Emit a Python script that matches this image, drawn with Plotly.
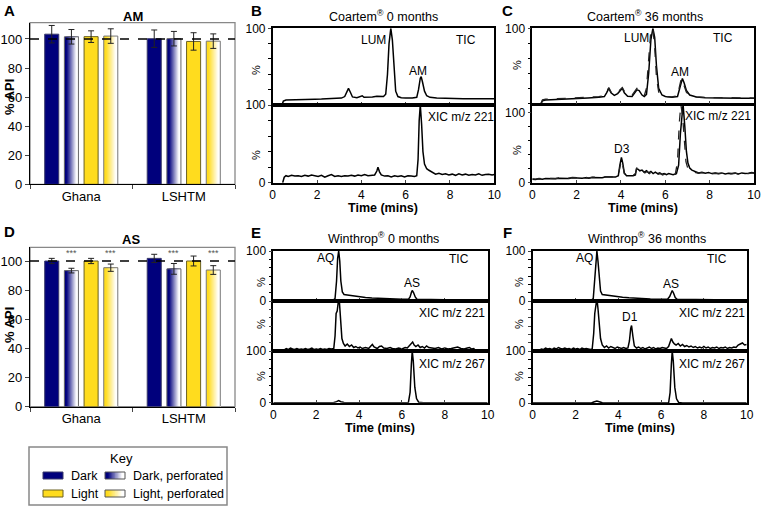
import plotly.graph_objects as go

W, H = 763, 506
FONT = "Arial, Liberation Sans, sans-serif"
NAVY = "#00007c"
GOLD = "#ffdc1e"

# ---- bar panels (A = AM, D = AS) ----
sites = ["Ghana", "LSHTM"]

am_dark = [103.3, 100.2]
am_dark_err = [6.0, 6.0]
am_dperf = [101.5, 100.2]
am_dperf_err = [5.0, 5.0]
am_light = [101.6, 98.3]
am_light_err = [4.0, 6.0]
am_lperf = [102.0, 98.5]
am_lperf_err = [5.0, 5.0]

as_dark = [100.0, 101.8]
as_dark_err = [1.8, 2.8]
as_dperf = [93.4, 94.6]
as_dperf_err = [1.6, 3.7]
as_light = [100.0, 100.0]
as_light_err = [1.8, 3.4]
as_lperf = [95.4, 93.8]
as_lperf_err = [2.5, 3.0]

# ---- chromatograms (time in min, % of max) ----
b_tic_t = [0.42, 0.48, 0.6, 0.8, 1.0, 1.3, 1.6, 1.9, 2.2, 2.5, 2.8, 3.1, 3.25, 3.35, 3.42, 3.5, 3.6, 3.8, 3.95, 4.04,
           4.12, 4.3, 4.5, 4.7, 4.85, 5.0, 5.1, 5.18, 5.25, 5.33, 5.4, 5.47, 5.55, 5.65, 5.8, 6.0, 6.3, 6.5, 6.58,
           6.66, 6.7, 6.76, 6.85, 6.95, 7.1, 7.4, 7.8, 8.2, 8.6, 9.0, 9.4, 9.8, 10.0]
b_tic_y = [0, 5, 6.5, 6.8, 7, 7.2, 7.3, 7.6, 7.8, 8.2, 8.5, 9, 11, 17, 21.7, 17, 10.5, 9.5, 10.5, 12,
           10, 9.8, 10.5, 11.5, 11, 11, 14, 40, 80, 100, 85, 45, 18, 11, 9.5, 9, 9, 10, 20,
           35, 37, 30, 18, 12, 10, 9, 8.5, 8.5, 8.3, 8.2, 8, 8, 8]

b_xic_t = [0.45, 0.52, 0.6, 0.7, 0.85, 1.0, 1.15, 1.3, 1.45, 1.6, 1.75, 1.9, 2.05, 2.2, 2.35, 2.5, 2.65, 2.8, 2.95,
           3.1, 3.25, 3.4, 3.55, 3.7, 3.85, 4.0, 4.15, 4.3, 4.45, 4.6, 4.7, 4.75, 4.82, 4.9, 5.05, 5.2, 5.35, 5.5,
           5.65, 5.8, 5.95, 6.1, 6.25, 6.4, 6.5, 6.56, 6.61, 6.66, 6.72, 6.78, 6.85, 6.95, 7.05, 7.2, 7.35, 7.5,
           7.65, 7.8, 7.95, 8.1, 8.25, 8.4, 8.55, 8.7, 8.85, 9.0, 9.15, 9.3, 9.45, 9.6, 9.75, 9.9, 10.0]
b_xic_y = [0, 7, 9, 8, 9.5, 8.5, 9, 8, 9.5, 8.5, 10, 9, 8, 9.5, 7, 9, 10.5, 8, 9,
           8, 9, 8.5, 9.5, 8.5, 10, 9, 10.5, 9, 9.5, 10, 15, 20, 14, 10, 8.5, 9, 7.5, 9,
           8, 9, 7.5, 9, 8.5, 8, 9, 30, 80, 100, 75, 40, 24, 18, 16, 13, 11, 12,
           10.5, 11.5, 10, 11, 9.5, 11.5, 10, 11, 9.5, 10.5, 10, 11.5, 9.5, 10.5, 11, 10, 10.5]

c_tic_t = [0.4, 0.46, 0.6, 1.0, 1.5, 2.0, 2.5, 3.0, 3.25, 3.35, 3.45, 3.55, 3.7, 3.85, 4.0, 4.06, 4.15, 4.3, 4.5,
           4.62, 4.72, 4.82, 4.95, 5.05, 5.15, 5.25, 5.35, 5.44, 5.52, 5.6, 5.7, 5.85, 6.0, 6.3, 6.55, 6.65, 6.72,
           6.77, 6.85, 6.95, 7.1, 7.4, 7.8, 8.3, 8.8, 9.3, 10.0]
c_tic_y = [0, 3.5, 4.4, 4.8, 5.5, 6.2, 7, 8, 9, 14, 20, 14, 10.5, 13, 19, 20, 14, 9.5, 9,
           14, 18, 17, 11, 9, 12, 40, 85, 100, 88, 50, 20, 11, 9, 8, 9, 20, 30,
           33, 27, 17, 11, 8.5, 7.5, 7, 7, 6.8, 6.8]
c_tic2_y = [0, 4.5, 5.4, 5.8, 6.5, 7.2, 8, 9, 10, 15, 21, 15, 12, 15, 20, 21, 16, 11.5, 11,
            16, 20, 19, 13, 10, 20, 60, 98, 100, 75, 35, 15, 10, 9, 8.5, 10, 24, 33,
            30, 24, 15, 10, 8.5, 7.8, 7.4, 7.4, 7.2, 7]

c_xic_t = [0.0, 0.15, 0.3, 0.45, 0.6, 0.75, 0.9, 1.05, 1.2, 1.35, 1.5, 1.65, 1.8, 1.95, 2.1, 2.25, 2.4, 2.55, 2.7,
           2.85, 3.0, 3.15, 3.3, 3.45, 3.6, 3.75, 3.88, 3.95, 4.02, 4.08, 4.15, 4.25, 4.4, 4.55, 4.65, 4.7, 4.78,
           4.85, 4.95, 5.05, 5.15, 5.25, 5.35, 5.45, 5.55, 5.65, 5.75, 5.85, 5.95, 6.05, 6.15, 6.25, 6.35, 6.5,
           6.6, 6.68, 6.75, 6.8, 6.88, 6.95, 7.02, 7.1, 7.2, 7.35, 7.5, 7.65, 7.8, 7.95, 8.1, 8.25, 8.4, 8.55,
           8.7, 8.85, 9.0, 9.15, 9.3, 9.45, 9.6, 9.75, 9.9, 10.0]
c_xic_y = [5, 4.5, 5.5, 5, 6, 5.5, 6, 5.5, 6.5, 6, 6.5, 6, 7, 6.5, 7, 6.5, 7, 6.5, 7.5,
           7, 7.5, 7, 8, 7.5, 8, 8, 10, 25, 36, 28, 14, 10, 9.5, 10, 11, 20, 19,
           17, 18, 15, 17, 14, 16, 13, 15, 13, 14, 12, 13, 11.5, 13, 12, 11.5, 13,
           25, 70, 100, 112, 80, 45, 28, 21, 18, 16, 14, 15, 13.5, 14.5, 13, 14, 13, 14,
           12.5, 13.5, 13, 14, 12.5, 14, 13, 13.5, 14.5, 14]
c_xic2_t = [0.0, 0.15, 0.3, 0.45, 0.6, 0.75, 0.9, 1.05, 1.2, 1.35, 1.5, 1.65, 1.8, 1.95, 2.1, 2.25, 2.4, 2.55, 2.7,
            2.85, 3.0, 3.15, 3.3, 3.45, 3.6, 3.75, 3.88, 3.95, 4.02, 4.08, 4.15, 4.25, 4.4, 4.55, 4.65, 4.72, 4.8,
            4.88, 4.98, 5.08, 5.18, 5.28, 5.38, 5.48, 5.58, 5.68, 5.78, 5.88, 5.98, 6.08, 6.18, 6.3, 6.45,
            6.55, 6.63, 6.7, 6.78, 6.86, 6.93, 7.0, 7.1, 7.2, 7.35, 7.5, 7.65, 7.8, 7.95, 8.1, 8.25, 8.4, 8.55,
            8.7, 8.85, 9.0, 9.15, 9.3, 9.45, 9.6, 9.75, 9.9, 10.0]
c_xic2_y = [5.5, 5, 6, 5.5, 6.5, 6, 6.5, 6, 7, 6.5, 7, 6.5, 7.5, 7, 7.5, 7, 7.5, 7, 8,
            7.5, 8, 7.5, 8.5, 8, 8.5, 8.5, 10, 22, 32, 25, 13, 10, 10, 10.5, 13, 22, 20,
            16, 17, 14, 16, 13, 15, 12, 14, 12, 13, 11, 12.5, 11, 12.5, 11.5, 12,
            30, 85, 112, 95, 55, 30, 22, 18, 16, 15, 13.5, 14.5, 13, 14, 12.5, 13.5, 12.5, 13.5,
            12, 13, 12.5, 13.5, 12, 13.5, 12.5, 13, 14, 13.5]

e_tic_t = [0.45, 0.5, 1.0, 1.5, 2.0, 2.5, 2.8, 2.88, 2.95, 3.0, 3.05, 3.1, 3.15, 3.22, 3.3, 3.45, 3.6, 3.8, 4.0,
           4.3, 4.6, 5.0, 5.5, 6.0, 6.3, 6.38, 6.44, 6.48, 6.54, 6.62, 6.7, 7.0, 7.5, 8.0, 8.5, 9.0, 9.35, 9.42]
e_tic_y = [0, 1, 1.2, 1.3, 1.5, 1.6, 1.8, 5, 40, 85, 100, 80, 40, 18, 13, 12, 11, 9.5, 8.5,
           7, 6, 5, 4, 3.5, 3.3, 8, 17, 21, 17, 8, 3.5, 3, 2.8, 2.6, 2.4, 2.3, 2.2, 0]

e_xic_t = [0.5, 0.6, 0.7, 0.8, 0.9, 1.0, 1.1, 1.2, 1.3, 1.4, 1.5, 1.6, 1.7, 1.8, 1.9, 2.0, 2.1, 2.2, 2.3, 2.4,
           2.5, 2.6, 2.7, 2.82, 2.88, 2.93, 2.98, 3.03, 3.08, 3.13, 3.2, 3.27, 3.35, 3.45, 3.55, 3.65, 3.75, 3.85,
           3.95, 4.05, 4.15, 4.3, 4.45, 4.55, 4.62, 4.7, 4.85, 4.95, 5.05, 5.15, 5.3, 5.45, 5.55, 5.7, 5.85, 6.0,
           6.15, 6.25, 6.35, 6.45, 6.5, 6.57, 6.65, 6.75, 6.85, 6.95, 7.05, 7.15, 7.25, 7.4, 7.55, 7.7, 7.85,
           8.0, 8.15, 8.3, 8.45, 8.6, 8.75, 8.9, 9.05, 9.15, 9.25, 9.35, 9.4]
e_xic_y = [2, 5, 3, 6, 4, 3, 5, 3, 4, 3, 5, 3, 4, 6, 3, 4, 3, 5, 3, 4,
           3, 5, 4, 5, 30, 75, 80, 98, 100, 60, 25, 15, 10, 14, 9, 12, 7, 9,
           6, 8, 5, 7, 5, 10, 13, 8, 5, 9, 10, 6, 5, 7, 5, 4, 6, 4,
           7, 6, 11, 14, 18, 12, 9, 12, 7, 9, 6, 10, 7, 6, 5, 7, 4,
           6, 4, 5, 7, 8, 5, 4, 6, 7, 4, 5, 2]

e_267_t = [0.0, 2.8, 2.95, 3.05, 3.15, 3.3, 6.3, 6.38, 6.44, 6.48, 6.53, 6.6, 6.68, 6.78, 7.0, 10.0]
e_267_y = [0, 0, 2, 4, 2, 0.5, 0, 20, 75, 100, 80, 30, 8, 1, 0, 0]

f_tic_t = [0.33, 0.38, 1.0, 1.5, 2.0, 2.5, 2.75, 2.83, 2.9, 2.95, 3.0, 3.05, 3.1, 3.17, 3.25, 3.4, 3.55, 3.7, 3.9,
           4.2, 4.5, 5.0, 5.5, 6.0, 6.3, 6.4, 6.47, 6.52, 6.58, 6.66, 6.75, 7.0, 7.5, 8.0, 8.5, 9.0, 9.28, 9.32]
f_tic_y = [0, 1, 1.3, 1.4, 1.6, 1.7, 2, 5, 45, 85, 100, 80, 45, 20, 13, 12, 11.5, 10.5, 9,
           7.5, 6.5, 5, 4.2, 3.6, 3.4, 9, 18, 21, 16, 7, 3.5, 3.2, 3, 2.8, 2.6, 2.5, 2.4, 0]

f_xic_t = [0.33, 0.4, 0.5, 0.6, 0.7, 0.8, 0.9, 1.0, 1.1, 1.2, 1.3, 1.4, 1.5, 1.6, 1.7, 1.8, 1.9, 2.0, 2.1, 2.2,
           2.3, 2.4, 2.5, 2.6, 2.7, 2.78, 2.85, 2.9, 2.95, 3.0, 3.05, 3.1, 3.17, 3.25, 3.35, 3.45, 3.55, 3.65,
           3.75, 3.85, 3.95, 4.05, 4.15, 4.25, 4.35, 4.45, 4.52, 4.58, 4.62, 4.68, 4.75, 4.85, 4.95, 5.05, 5.15,
           5.25, 5.35, 5.45, 5.55, 5.65, 5.75, 5.85, 5.95, 6.05, 6.15, 6.25, 6.35, 6.42, 6.48, 6.55, 6.62, 6.7,
           6.8, 6.9, 7.0, 7.1, 7.2, 7.3, 7.4, 7.5, 7.6, 7.7, 7.8, 7.9, 8.0, 8.1, 8.2, 8.3, 8.4, 8.5, 8.6, 8.7,
           8.8, 8.9, 9.0, 9.1, 9.2, 9.3, 9.4, 9.5, 9.6, 9.7, 9.8, 9.9, 10.0]
f_xic_y = [2, 4, 3, 6, 4, 5, 3, 6, 4, 7, 5, 4, 6, 4, 5, 3, 6, 4, 5, 3,
           6, 4, 5, 4, 3, 4, 35, 75, 100, 105, 85, 50, 25, 12, 7, 10, 6, 9,
           7, 5, 8, 6, 5, 7, 5, 6, 20, 45, 51, 30, 10, 6, 8, 5, 7,
           4, 6, 8, 5, 7, 4, 6, 5, 7, 6, 5, 9, 18, 25, 18, 14, 12,
           15, 10, 13, 9, 11, 8, 10, 7, 9, 6, 8, 6, 9, 6, 8, 5, 7, 6, 8, 5,
           7, 6, 8, 5, 7, 6, 8, 7, 12, 14, 16, 12, 13]

f_267_t = [0.0, 2.75, 2.85, 3.0, 3.15, 3.25, 6.35, 6.42, 6.48, 6.52, 6.57, 6.64, 6.72, 6.82, 7.0, 10.0]
f_267_y = [0, 0, 2, 4, 2, 0.5, 0, 20, 75, 100, 80, 30, 8, 1, 0, 0]


def px(x):
    return x / W


def py(y):
    return 1 - y / H


def mix(c1, c2, f):
    a = [int(c1[i:i + 2], 16) for i in (1, 3, 5)]
    b = [int(c2[i:i + 2], 16) for i in (1, 3, 5)]
    return "rgb(%d,%d,%d)" % tuple(round(a[j] + (b[j] - a[j]) * f) for j in range(3))


def fade(f):
    return min(max((f - 0.15) / 0.7, 0), 1)


fig = go.Figure()

cat_step = 0.192
bar_w = 0.137
N = 14


def add_bar(xa, ya, vals, errs, k, color, edge, faded):
    start = (k - 1.5) * cat_step - bar_w / 2
    fill = color
    if faded:
        for i in range(N):
            fig.add_trace(go.Bar(x=sites, y=vals, offset=start + i * bar_w / N, width=bar_w - i * bar_w / N,
                                 marker=dict(color=mix(color, "#ffffff", fade((i + 0.5) / N)), line_width=0),
                                 xaxis=xa, yaxis=ya, hoverinfo="skip", showlegend=False))
        fill = "rgba(0,0,0,0)"
    fig.add_trace(go.Bar(x=sites, y=vals, offset=start, width=bar_w,
                         marker=dict(color=fill, line=dict(color=edge, width=1)),
                         error_y=dict(type="data", array=errs, color="#222", thickness=1, width=3),
                         xaxis=xa, yaxis=ya, hoverinfo="skip", showlegend=False))


for xa, ya, sets in [("x", "y", [(am_dark, am_dark_err), (am_dperf, am_dperf_err), (am_light, am_light_err), (am_lperf, am_lperf_err)]),
                     ("x2", "y2", [(as_dark, as_dark_err), (as_dperf, as_dperf_err), (as_light, as_light_err), (as_lperf, as_lperf_err)])]:
    add_bar(xa, ya, sets[0][0], sets[0][1], 0, NAVY, "#3a3a6a", False)
    add_bar(xa, ya, sets[1][0], sets[1][1], 1, NAVY, "#666666", True)
    add_bar(xa, ya, sets[2][0], sets[2][1], 2, GOLD, "#6b6120", False)
    add_bar(xa, ya, sets[3][0], sets[3][1], 3, GOLD, "#777777", True)


def line(t, y, n, dash="solid", color="black", width=1.5):
    fig.add_trace(go.Scatter(x=t, y=y, mode="lines", line=dict(color=color, width=width, dash=dash),
                             xaxis="x%d" % n, yaxis="y%d" % n, hoverinfo="skip", showlegend=False))


line(b_tic_t, b_tic_y, 3)
line(b_xic_t, b_xic_y, 4)
line(c_tic_t, c_tic_y, 5)
line(c_tic_t, c_tic2_y, 5, "dash", "#222", 1.3)
line(c_xic_t, c_xic_y, 6)
line(c_xic2_t, c_xic2_y, 6, "dash", "#222", 1.3)
line(e_tic_t, e_tic_y, 7)
line(e_xic_t, e_xic_y, 8)
line(e_267_t, e_267_y, 9)
line(f_tic_t, f_tic_y, 10)
line(f_xic_t, f_xic_y, 11)
line(f_267_t, f_267_y, 12)

lay = dict(
    width=W, height=H, margin=dict(l=0, r=0, t=0, b=0, autoexpand=False),
    paper_bgcolor="white", plot_bgcolor="white",
    font=dict(family=FONT, size=12, color="black"),
    barmode="overlay",
)

# bar panel axes
for n, (top, bot, ymax) in zip(["", "2"], [(22.7, 184.3, 111.2), (247.3, 406.7, 109.4)]):
    lay["xaxis" + n] = dict(domain=[px(30), px(235)], range=[-0.5, 1.5], type="category", anchor="y" + n,
                            showline=True, linecolor="black", linewidth=1.3, ticks="outside", ticklen=4,
                            tickson="boundaries", tickfont=dict(size=13), showgrid=False, automargin=False)
    lay["yaxis" + n] = dict(domain=[py(bot), py(top)], range=[0, ymax], anchor="x" + n,
                            showline=True, linecolor="black", linewidth=1.3, ticks="outside", ticklen=4,
                            tickvals=[0, 20, 40, 60, 80, 100], tickfont=dict(size=13), showgrid=False, zeroline=False,
                            automargin=False)

# chromatogram axes: n, x0, x1, top, bottom, ymax, tick positions, labelled ticks, bottom panel
tick6 = [0, 20, 40, 60, 80, 100]
tick7 = [0, 16.67, 33.33, 50, 66.67, 83.33, 100]
chrom = [
    (3, 272.7, 494.3, 28.3, 105.0, 100, tick6, [100], False),
    (4, 272.7, 494.3, 105.0, 182.7, 100, tick6, [0, 100], True),
    (5, 532.3, 754.0, 28.3, 103.3, 100, tick6, [100], False),
    (6, 532.3, 754.0, 106.0, 182.7, 109.6, tick6, [0, 100], True),
    (7, 273.3, 487.7, 251.0, 301.0, 100, tick7, [0, 100], False),
    (8, 273.3, 487.7, 301.0, 351.0, 100, tick7, [], False),
    (9, 273.3, 487.7, 351.0, 402.7, 100, tick7, [0, 100], True),
    (10, 532.7, 746.7, 251.0, 301.0, 100, tick7, [0, 100], False),
    (11, 532.7, 746.7, 301.0, 351.0, 100, tick7, [], False),
    (12, 532.7, 746.7, 351.0, 403.0, 100, tick7, [0, 100], True),
]
for n, x0, x1, top, bot, ymax, tv, labs, is_bot in chrom:
    lay["xaxis%d" % n] = dict(domain=[px(x0), px(x1)], range=[0, 10], anchor="y%d" % n,
                              showline=True, mirror=True, linecolor="black", linewidth=1.5,
                              tickvals=[0, 2, 4, 6, 8, 10], ticks="inside", ticklen=3,
                              showticklabels=is_bot,
                              tickfont=dict(size=12), showgrid=False, zeroline=False, automargin=False)
    main = [v for v in tv if round(v) in labs]
    lay["yaxis%d" % n] = dict(domain=[py(bot), py(top)], range=[0, ymax], anchor="x%d" % n,
                              showline=True, mirror=True, linecolor="black", linewidth=1.5,
                              tickvals=main if main else tv, showticklabels=bool(main),
                              ticks="outside", ticklen=3, tickfont=dict(size=12),
                              minor=dict(tickvals=tv, ticks="outside", ticklen=3, tickcolor="black"),
                              showgrid=False, zeroline=False, automargin=False)

shapes = []
for n in ["", "2"]:
    shapes.append(dict(type="rect", xref="x%s domain" % n, yref="y%s domain" % n, x0=0, x1=1, y0=0, y1=1,
                       line=dict(color="#888", width=1.3), layer="below"))
    shapes.append(dict(type="line", xref="x%s domain" % n, yref="y" + n, x0=0, x1=1, y0=100, y1=100,
                       line=dict(color="black", width=1.6, dash="dash")))

# key box
shapes.append(dict(type="rect", xref="paper", yref="paper", x0=px(29), x1=px(227), y0=py(505), y1=py(447),
                   line=dict(color="#888", width=1.5)))


def swatch(x0, x1, y0, y1, color, edge, faded):
    if faded:
        for i in range(N):
            shapes.append(dict(type="rect", xref="paper", yref="paper",
                               x0=px(x0 + (x1 - x0) * i / N), x1=px(x1), y0=py(y1), y1=py(y0),
                               fillcolor=mix(color, "#ffffff", fade((i + 0.5) / N)), line_width=0))
        color = "rgba(0,0,0,0)"
    shapes.append(dict(type="rect", xref="paper", yref="paper", x0=px(x0), x1=px(x1), y0=py(y1), y1=py(y0),
                       fillcolor=color, line=dict(color=edge, width=1)))


swatch(43, 63, 472, 479, NAVY, "#3a3a6a", False)
swatch(105, 125, 472, 479, NAVY, "#555", True)
swatch(43, 63, 490, 497, GOLD, "#6b6120", False)
swatch(105, 125, 490, 497, GOLD, "#555", True)
lay["shapes"] = shapes

ann = []


def text(x, y, s, size=12, bold=False, xanchor="center", angle=0, color="black"):
    ann.append(dict(x=px(x), y=py(y), xref="paper", yref="paper", text="<b>%s</b>" % s if bold else s,
                    showarrow=False, xanchor=xanchor, yanchor="middle", textangle=angle,
                    font=dict(size=size, color=color)))


for s, x, y in [("A", 9, 11), ("B", 256, 11), ("C", 507, 11), ("D", 9, 231), ("E", 256, 232), ("F", 507, 232)]:
    text(x, y, s, 15, True)

text(133, 16, "AM", 13, True)
text(131, 240, "AS", 13, True)
text(9, 97, "% API", 13, True, angle=-90)
text(9, 325, "% API", 13, True, angle=-90)
for k in (1, 3):
    for i in range(2):
        ann.append(dict(x=i + (k - 1.5) * cat_step, y=105.5, xref="x2", yref="y2", text="***", showarrow=False,
                        font=dict(size=9, color="#555"), yanchor="middle"))

text(383, 16, "Coartem<sup>®</sup> 0 months", 12.5)
text(645, 16, "Coartem<sup>®</sup> 36 months", 12.5)
text(383, 238, "Winthrop<sup>®</sup> 0 months", 12.5)
text(647, 238, "Winthrop<sup>®</sup> 36 months", 12.5)
for x, y in [(383, 208.5), (643, 208.5), (380, 428), (640, 428)]:
    text(x, y, "Time (mins)", 12.5, True)

for x, y in [(256, 70), (256, 155), (517, 65), (517, 150),
             (261, 282), (261, 324), (261, 376), (519, 282), (519, 324), (519, 376)]:
    text(x, y, "%", 11, angle=-90)

# peak / trace labels
text(373, 40, "LUM")
text(466, 40, "TIC")
text(418, 71, "AM")
text(461, 117, "XIC m/z 221")
text(636, 38, "LUM")
text(723, 38, "TIC")
text(680, 72, "AM")
text(622, 149, "D3")
text(718, 116, "XIC m/z 221")
text(325, 258, "AQ")
text(459, 259, "TIC")
text(412, 283, "AS")
text(452, 313, "XIC m/z 221")
text(452, 364, "XIC m/z 267")
text(584, 258, "AQ")
text(717, 259, "TIC")
text(671, 284, "AS")
text(630, 317, "D1")
text(712, 313, "XIC m/z 221")
text(712, 364, "XIC m/z 267")

# key
text(121, 458, "Key", 13)
text(69, 476, "Dark", 12.5, xanchor="left")
text(69, 494, "Light", 12.5, xanchor="left")
text(131, 476, "Dark, perforated", 12.5, xanchor="left")
text(131, 494, "Light, perforated", 12.5, xanchor="left")

lay["annotations"] = ann
fig.update_layout(**lay)
# the page's default 8px body margin would push the figure off the 763x506 window
fig.write_html("out.html", config={"displayModeBar": False},
               post_script="document.body.style.margin='0';")
